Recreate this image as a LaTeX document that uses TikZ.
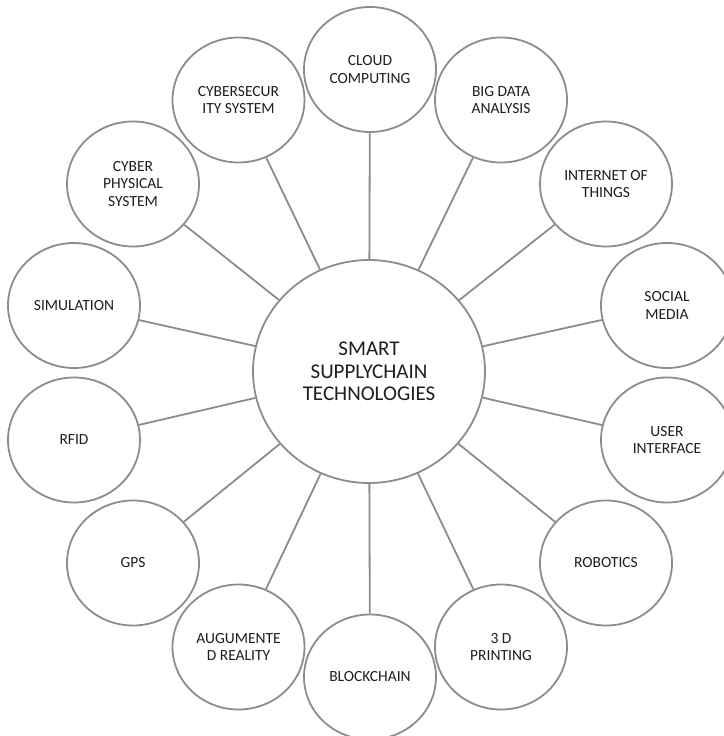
\documentclass[tikz,border=0pt]{standalone}
\usepackage{fontspec}
\setmainfont{Carlito}
\usetikzlibrary{shapes.geometric}
\definecolor{ringgray}{RGB}{140,140,140}
\definecolor{txtgray}{RGB}{30,30,30}
\tikzset{
  outer/.style={ellipse, draw=ringgray, line width=1.8pt, fill=white,
    minimum width=132pt, minimum height=125pt, inner sep=0pt, align=center,
    text=txtgray, font=\fontsize{15.5}{17.5}\selectfont},
  hub/.style={ellipse, draw=ringgray, line width=1.8pt, fill=white,
    minimum width=232pt, minimum height=223pt, inner sep=0pt, align=center,
    text=txtgray, font=\fontsize{21}{22.5}\selectfont},
  link/.style={draw=ringgray, line width=1.8pt}
}
\begin{document}
\begin{tikzpicture}[x=1pt,y=-1pt]
\useasboundingbox (0,0) rectangle (723,736);
\node[hub] (c) at (369,371.5) {SMART\\SUPPLYCHAIN\\TECHNOLOGIES};
\node[outer] (cloud) at (370,69.5) {CLOUD\\COMPUTING};
\node[outer] (csec) at (238.5,100) {CYBERSECUR\\ITY SYSTEM};
\node[outer] (bigd) at (501,100) {BIG DATA\\ANALYSIS};
\node[outer] (iot) at (606,184) {INTERNET OF\\THINGS};
\node[outer] (cps) at (133,184) {CYBER\\PHYSICAL\\SYSTEM};
\node[outer] (sim) at (74,305.5) {SIMULATION};
\node[outer] (soc) at (667,305.5) {SOCIAL\\MEDIA};
\node[outer] (rfid) at (74,440) {RFID};
\node[outer] (ui) at (667,440) {USER\\INTERFACE};
\node[outer] (gps) at (133,563) {GPS};
\node[outer] (rob) at (606,563) {ROBOTICS};
\node[outer] (aug) at (238.5,647) {AUGUMENTE\\D REALITY};
\node[outer] (print) at (501,647) {3 D\\PRINTING};
\node[outer] (block) at (370,677) {BLOCKCHAIN};
\foreach \n in {cloud,csec,bigd,iot,cps,sim,soc,rfid,ui,gps,rob,aug,print,block}
  \draw[link] (c) -- (\n);
\end{tikzpicture}
\end{document}
